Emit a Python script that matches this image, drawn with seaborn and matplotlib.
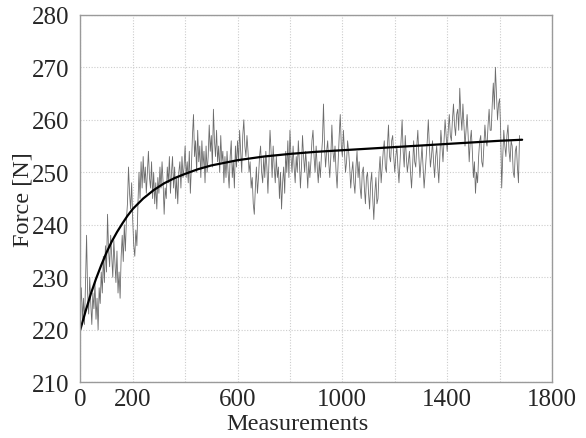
import numpy as np
import pandas as pd
import matplotlib
matplotlib.use("Agg")
import matplotlib.pyplot as plt
import seaborn as sns

# ---- data ----
meas_step = 4
force_raw = [
    224, 228, 222, 226, 221, 229, 238, 227, 223, 230, 225, 221, 227, 224, 229, 222, 226, 220, 228, 225,
    231, 227, 234, 229, 236, 231, 242, 235, 232, 238, 234, 230, 237, 233, 229, 235, 227, 231, 226, 234,
    238, 233, 240, 235, 241, 244, 251, 246, 243, 248, 241, 236, 234, 239, 236, 244, 250, 245, 252, 247,
    253, 248, 251, 246, 250, 254, 249, 247, 252, 245, 250, 244, 248, 243, 249, 246, 251, 247, 252, 248,
    242, 247, 245, 251, 248, 253, 246, 250, 253, 247, 251, 245, 249, 244, 250, 252, 247, 253, 249, 251,
    255, 249, 252, 248, 254, 246, 251, 257, 261, 253, 256, 250, 258, 252, 255, 249, 256, 251, 254, 248,
    255, 250, 253, 259, 254, 257, 251, 262, 256, 253, 258, 252, 255, 250, 257, 252, 254, 248, 253, 249,
    254, 250, 247, 253, 256, 249, 252, 247, 255, 251, 256, 252, 258, 254, 250, 257, 260, 255, 253, 257,
    254, 250, 252, 247, 249, 244, 242, 247, 251, 246, 249, 253, 255, 250, 248, 253, 249, 254, 251, 246,
    252, 258, 254, 249, 255, 251, 248, 253, 249, 251, 245, 250, 243, 248, 251, 246, 254, 250, 256, 249,
    258, 253, 250, 255, 251, 248, 253, 250, 256, 252, 247, 251, 257, 253, 250, 254, 251, 247, 252, 249,
    252, 256, 258, 253, 250, 255, 251, 248, 252, 249, 253, 256, 263, 255, 251, 254, 256, 252, 249, 253,
    259, 254, 252, 255, 250, 247, 252, 257, 261, 255, 253, 258, 254, 250, 252, 256, 254, 251, 247, 250,
    252, 248, 246, 251, 254, 249, 252, 247, 245, 250, 251, 247, 244, 249, 250, 246, 243, 248, 250, 245,
    241, 246, 249, 244, 245, 250, 253, 248, 251, 254, 256, 251, 250, 255, 259, 253, 252, 256, 257, 253,
    250, 253, 255, 251, 248, 252, 256, 260, 254, 251, 257, 253, 250, 252, 254, 250, 247, 251, 256, 252,
    251, 255, 258, 253, 249, 252, 255, 251, 247, 250, 253, 256, 260, 255, 251, 253, 256, 252, 249, 253,
    255, 251, 248, 253, 258, 255, 252, 256, 260, 257, 254, 258, 261, 257, 256, 260, 263, 259, 257, 261,
    262, 258, 266, 261, 258, 263, 259, 255, 258, 261, 257, 252, 256, 258, 254, 249, 252, 246, 250, 248,
    253, 256, 257, 252, 251, 255, 259, 256, 255, 259, 262, 258, 258, 263, 267, 262, 270, 265, 260, 263,
    264, 258, 247, 253, 258, 255, 253, 257, 259, 254, 252, 256, 255, 250, 249, 254, 255, 251, 248, 257,
]
fit_x = [0, 20, 40, 60, 80, 100, 120, 140, 160, 180, 200, 240, 280, 320, 360,
         400, 450, 500, 600, 700, 800, 900, 1000, 1100, 1200, 1300, 1400,
         1500, 1600, 1686]
fit_y = [220.0, 223.5, 226.8, 229.7, 232.3, 234.7, 236.8, 238.6, 240.2, 241.7,
         243.0, 245.0, 246.6, 247.9, 248.9, 249.7, 250.6, 251.3, 252.3, 253.0,
         253.5, 253.9, 254.2, 254.5, 254.8, 255.1, 255.4, 255.7, 256.0, 256.2]
xtick_vals = [0, 200, 400, 600, 800, 1000, 1200, 1400, 1600, 1800]
xtick_labels = ["0", "200", "", "600", "", "1000", "", "1400", "", "1800"]
ytick_vals = [210, 220, 230, 240, 250, 260, 270, 280]

raw_df = pd.DataFrame({"Measurements": np.arange(len(force_raw)) * meas_step,
                       "Force": force_raw})
fit_df = pd.DataFrame({"Measurements": fit_x, "Force": fit_y})

sns.set_style("white")
plt.rcParams["font.family"] = ["Liberation Serif", "DejaVu Serif"]

fig = plt.figure(figsize=(5.86, 4.39), dpi=100)
ax = fig.add_axes([0.137, 0.127, 0.805, 0.837])

sns.lineplot(data=raw_df, x="Measurements", y="Force", ax=ax,
             color="#6c6c6c", linewidth=0.6, estimator=None)
sns.lineplot(data=fit_df, x="Measurements", y="Force", ax=ax,
             color="black", linewidth=1.6, estimator=None)

ax.set_xlim(0, 1800)
ax.set_ylim(210, 280)
ax.set_xticks(xtick_vals)
ax.set_xticklabels(xtick_labels)
ax.set_yticks(ytick_vals)
ax.grid(True, color="#cccccc", linestyle=(0, (1, 1.5)), linewidth=0.8)
ax.set_axisbelow(True)
for s in ax.spines.values():
    s.set_color("#9a9a9a")
    s.set_linewidth(1.0)
ax.tick_params(axis="both", direction="in", length=3, color="#9a9a9a",
               labelsize=18, top=False, right=False)
ax.tick_params(axis="x", pad=4)
ax.tick_params(axis="y", pad=8)
ax.set_xlabel("Measurements", fontsize=17.5, labelpad=4)
ax.xaxis.set_label_coords(0.46, -0.085)
ax.set_ylabel("Force [N]", fontsize=17.5)
ax.yaxis.set_label_coords(-0.10, 0.5)

fig.savefig("out.png", dpi=100)
